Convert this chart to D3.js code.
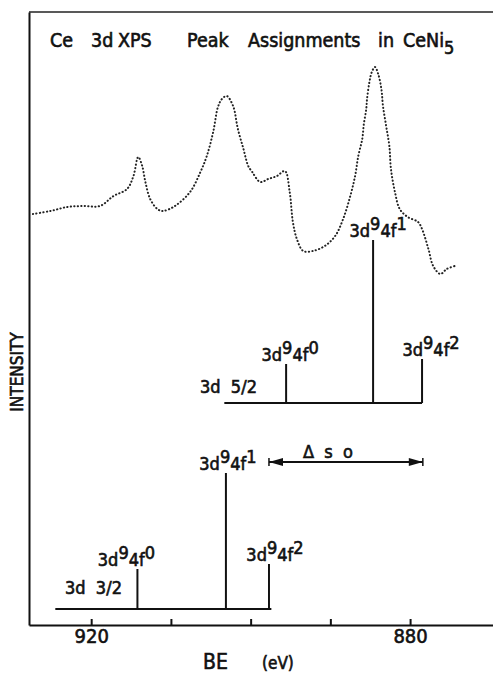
<!DOCTYPE html>
<html>
<head>
<meta charset="utf-8">
<script src="https://cdn.jsdelivr.net/npm/d3@7"></script>
<style>
  body { margin: 0; background: #fff; }
  svg { display: block; font-family: "DejaVu Sans Condensed", "Liberation Sans Narrow", "DejaVu Sans", sans-serif; }
  svg text { fill: #111; stroke: #111; stroke-width: 0.6px; }
  .axis path, .axis line { stroke: #111; stroke-width: 2; }
  .axis text { font-size: 20px; font-family: "DejaVu Sans Condensed", sans-serif; }
</style>
</head>
<body>
<div id="chart"></div>
<script>
// --- data (binding energy in eV, intensity in arbitrary units) ---
const spectrumBE = [927.3, 925.1, 923.0, 921.0, 918.9, 917.2, 915.5, 914.7, 914.1, 913.6,
  913.2, 912.6, 911.7, 911.0, 909.5, 907.6, 906.3, 905.5, 904.7, 904.1,
  903.6, 903.0, 902.2, 901.6, 900.9, 900.3, 899.8, 898.8, 897.8, 896.7,
  895.7, 895.1, 894.7, 894.2, 893.4, 892.2, 890.7, 889.4, 888.4, 887.5,
  886.9, 886.5, 886.0, 885.8, 885.5, 885.4, 885.1, 884.8, 884.4, 884.0,
  883.6, 883.4, 883.0, 882.6, 882.4, 881.9, 881.3, 880.3, 879.0, 878.5,
  877.7, 877.1, 876.2, 875.4, 874.4];
const spectrumIntensity = [411, 414, 418, 419, 419, 429, 436, 449, 468, 459,
  443, 426, 416, 414, 419, 433, 453, 469, 493, 518,
  526, 529, 519, 496, 476, 459, 453, 443, 446, 449,
  454, 433, 403, 386, 374, 374, 379, 389, 406, 429,
  449, 469, 486, 501, 516, 526, 543, 553, 558, 551,
  536, 519, 499, 479, 456, 433, 416, 408, 403, 396,
  376, 359, 351, 356, 359];

const finalStates = ["0", "1", "2"];
// 3d 5/2 multiplet
const d52Baseline = 222;
const d52Range = [903.3, 878.5];
const d52BE = [895.55, 884.64, 878.5];
const d52Height = [261, 385, 266];
// 3d 3/2 multiplet
const d32Baseline = 16;
const d32Range = [924.5, 897.4];
const d32BE = [914.2, 903.1, 897.7];
const d32Height = [56, 152, 61];
// spin-orbit splitting arrow
const deltaSO = [897.7, 878.4];
const deltaSOLevel = 163;

const xTicks = [920, 910, 900, 890, 880];
const xTickLabels = ["920", "", "", "", "880"];

const titleWords = ["Ce", "3d", "XPS", "Peak", "Assignments", "in", "CeNi"];
const titleWordX = [50, 91, 118, 187, 248, 378, 403];

// --- layout ---
const width = 493, height = 673;
const margin = { top: 12, left: 29, bottom: 48 };

const svg = d3.select("#chart").append("svg")
  .attr("width", width)
  .attr("height", height);

const x = d3.scaleLinear()
  .domain([927.8, 869.6])
  .range([margin.left, width]);

const y = d3.scaleLinear()
  .domain([0, 613])
  .range([height - margin.bottom, margin.top]);

// frame top line
svg.append("line")
  .attr("x1", margin.left).attr("x2", width)
  .attr("y1", margin.top).attr("y2", margin.top)
  .attr("stroke", "#222").attr("stroke-width", 1.5);

// x axis with inward ticks
svg.append("g")
  .attr("class", "axis")
  .attr("transform", `translate(0,${y(0)})`)
  .call(d3.axisBottom(x)
    .tickValues(xTicks)
    .tickSizeInner(-6)
    .tickSizeOuter(0)
    .tickPadding(4)
    .tickFormat((d, i) => xTickLabels[i]));

// y axis (line only)
svg.append("g")
  .attr("class", "axis")
  .attr("transform", `translate(${margin.left},0)`)
  .call(d3.axisLeft(y).tickValues([]).tickSizeOuter(0));

// axis labels
const xLab = svg.append("text")
  .attr("x", 203).attr("y", 669);
xLab.append("tspan").style("font-size", "21px").text("BE");
xLab.append("tspan").attr("x", 262).style("font-size", "17px").text("(eV)");

svg.append("text")
  .attr("transform", `translate(23,${372}) rotate(-90)`)
  .attr("text-anchor", "middle")
  .style("font-size", "17px")
  .text("INTENSITY");

// title
const title = svg.append("text")
  .attr("y", 47)
  .style("font-size", "19.5px");
title.selectAll("tspan")
  .data(titleWords)
  .join("tspan")
  .attr("x", (d, i) => titleWordX[i])
  .text((d) => d);
title.append("tspan").attr("dy", 7).style("font-size", "18px").text("5");

// spectrum as dotted curve
const spectrum = spectrumBE.map((d, i) => ({ be: d, v: spectrumIntensity[i] }));
svg.append("path")
  .datum(spectrum)
  .attr("fill", "none")
  .attr("stroke", "#222")
  .attr("stroke-width", 2)
  .attr("stroke-linecap", "round")
  .attr("stroke-dasharray", "0.3 3.2")
  .attr("d", d3.line()
    .x((d) => x(d.be))
    .y((d) => y(d.v))
    .curve(d3.curveCatmullRom.alpha(0.5)));

// stick diagrams
function drawMultiplet(name, base, range, be, heights, labelShift, nameX, nameY) {
  const g = svg.append("g");
  g.append("line")
    .attr("x1", x(range[0])).attr("x2", x(range[1]))
    .attr("y1", y(base)).attr("y2", y(base))
    .attr("stroke", "#111").attr("stroke-width", 2);

  g.selectAll(".stick")
    .data(be)
    .join("line")
    .attr("class", "stick")
    .attr("x1", (d) => x(d)).attr("x2", (d) => x(d))
    .attr("y1", y(base))
    .attr("y2", (d, i) => y(heights[i]))
    .attr("stroke", "#111").attr("stroke-width", 2);

  const labels = g.selectAll(".lab")
    .data(be)
    .join("text")
    .attr("class", "lab")
    .attr("x", (d, i) => x(d) + labelShift[i])
    .attr("y", (d, i) => y(heights[i]) - 3)
    .attr("text-anchor", "middle")
    .style("font-size", "18px");
  labels.append("tspan").text("3d");
  labels.append("tspan").attr("dy", -7).text("9");
  labels.append("tspan").attr("dy", 7).text("4f");
  labels.append("tspan").attr("dy", -7).text((d, i) => finalStates[i]);

  g.append("text")
    .attr("x", nameX).attr("y", nameY)
    .style("font-size", "18px")
    .style("white-space", "pre")
    .text(name);
}

drawMultiplet("3d  5/2", d52Baseline, d52Range, d52BE, d52Height, [4, 5, 9], 200, 393);
drawMultiplet("3d  3/2", d32Baseline, d32Range, d32BE, d32Height, [-11, 2, 6], 65, 594);

// delta spin-orbit arrow
const ay = y(deltaSOLevel);
const ax0 = x(deltaSO[0]), ax1 = x(deltaSO[1]);
const arrow = svg.append("g").attr("stroke", "#111").attr("fill", "#111");
arrow.append("line")
  .attr("x1", ax0).attr("x2", ax1).attr("y1", ay).attr("y2", ay)
  .attr("stroke-width", 2);
[ax0, ax1].forEach((px, i) => {
  const dir = i === 0 ? 1 : -1;
  arrow.append("line")
    .attr("x1", px).attr("x2", px).attr("y1", ay - 4).attr("y2", ay + 4)
    .attr("stroke-width", 1.5);
  arrow.append("path")
    .attr("stroke", "none")
    .attr("d", `M${px},${ay} L${px + dir * 14},${ay - 4} L${px + dir * 14},${ay + 4} Z`);
});
svg.append("text")
  .attr("x", 328).attr("y", 458)
  .attr("text-anchor", "middle")
  .style("font-size", "18px")
  .style("white-space", "pre")
  .text("Δ  s  o");
</script>
</body>
</html>
